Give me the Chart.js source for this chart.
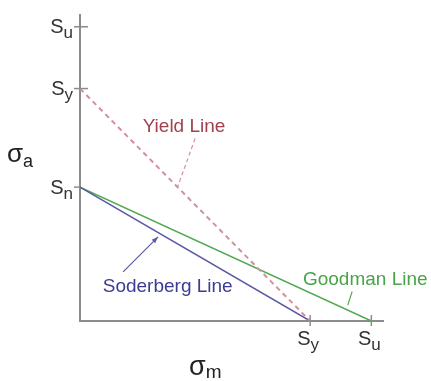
<!DOCTYPE html>
<html>
<head>
<meta charset="utf-8">
<script src="https://cdn.jsdelivr.net/npm/chart.js@4.4.1/dist/chart.umd.min.js"></script>
<style>
  html, body { margin: 0; padding: 0; background: #fff; }
  canvas { display: block; }
</style>
</head>
<body>
<canvas id="fatigue-chart" width="431" height="381"></canvas>
<script>
// strengths, in the same arbitrary stress units on both axes
const SU = 100; // ultimate
const SY = 79; // yield
const SN = 45.5; // endurance

const lineNames = ["Yield Line", "Soderberg Line", "Goodman Line"];
const altIntercepts = [SY, SN, SN]; // where each line meets the sigma_a axis
const meanIntercepts = [SY, SY, SU]; // where each line meets the sigma_m axis

const yTickValues = [SU, SY, SN];
const yTickLabels = [["S", "u"], ["S", "y"], ["S", "n"]];
const xTickValues = [SY, SU];
const xTickLabels = [["S", "y"], ["S", "u"]];

const AXIS_MAX = 104;
const FONT = "'Liberation Sans', Arial, sans-serif";

const styles = {
  "Yield Line": { line: "#d4909c", text: "#a3404f", dash: [5, 4], width: 2 },
  "Soderberg Line": { line: "#5a5aa6", text: "#3c3c94", dash: [], width: 1.5 },
  "Goodman Line": { line: "#4fa94f", text: "#47a447", dash: [], width: 1.5 },
};

// label placement (data units) and leader lines
const callouts = {
  "Yield Line": { at: [35.7, 64.3], from: [39.5, 62.0], to: [33.6, 45.8], arrow: false },
  "Soderberg Line": { at: [30.1, 10.0], from: [14.8, 16.7], to: [26.8, 28.6], arrow: true },
  "Goodman Line": { at: [97.9, 12.2], from: [93.4, 10.0], to: [91.9, 5.4], arrow: false },
};

function drawSub(ctx, main, sub, x, y, align, mainSize, subSize, drop) {
  ctx.font = `${mainSize}px ${FONT}`;
  const w1 = ctx.measureText(main).width;
  ctx.font = `${subSize}px ${FONT}`;
  const w2 = ctx.measureText(sub).width;
  let start = x;
  if (align === "right") start = x - w1 - w2;
  if (align === "center") start = x - (w1 + w2) / 2;
  ctx.textAlign = "left";
  ctx.textBaseline = "alphabetic";
  ctx.font = `${mainSize}px ${FONT}`;
  ctx.fillText(main, start, y);
  ctx.font = `${subSize}px ${FONT}`;
  ctx.fillText(sub, start + w1, y + drop);
}

const overlay = {
  id: "overlay",
  afterDatasetsDraw(chart) {
    const { ctx, chartArea } = chart;
    const xs = chart.scales.x;
    const ys = chart.scales.y;
    ctx.save();

    // tick marks
    ctx.strokeStyle = "#8c8c8c";
    ctx.lineWidth = 1.5;
    yTickValues.forEach((v, i) => {
      const py = ys.getPixelForValue(v);
      ctx.beginPath();
      ctx.moveTo(chartArea.left - 6, py);
      ctx.lineTo(chartArea.left + (v === SN ? 0 : 8), py);
      ctx.stroke();
    });
    xTickValues.forEach((v) => {
      const px = xs.getPixelForValue(v);
      ctx.beginPath();
      ctx.moveTo(px, chartArea.bottom - 6);
      ctx.lineTo(px, chartArea.bottom + 5);
      ctx.stroke();
    });

    // tick labels
    ctx.fillStyle = "#333";
    yTickValues.forEach((v, i) => {
      const py = ys.getPixelForValue(v);
      drawSub(ctx, yTickLabels[i][0], yTickLabels[i][1], chartArea.left - 7, py + 6.5, "right", 20, 17, 5);
    });
    xTickValues.forEach((v, i) => {
      const px = xs.getPixelForValue(v);
      drawSub(ctx, xTickLabels[i][0], xTickLabels[i][1], px - 2, chartArea.bottom + 24, "center", 20, 17, 5);
    });

    // axis titles
    ctx.fillStyle = "#222";
    drawSub(ctx, "\u03c3", "a", chartArea.left - 73, ys.getPixelForValue(54), "left", 26, 18, 5);
    drawSub(ctx, "\u03c3", "m", xs.getPixelForValue(43), chartArea.bottom + 54, "center", 27, 19, 3);

    // callouts
    lineNames.forEach((name) => {
      const c = callouts[name];
      const s = styles[name];
      const x1 = xs.getPixelForValue(c.from[0]);
      const y1 = ys.getPixelForValue(c.from[1]);
      const x2 = xs.getPixelForValue(c.to[0]);
      const y2 = ys.getPixelForValue(c.to[1]);
      ctx.strokeStyle = s.line;
      ctx.lineWidth = 1.2;
      ctx.setLineDash(s.dash.length ? [4, 3] : []);
      ctx.beginPath();
      ctx.moveTo(x1, y1);
      ctx.lineTo(x2, y2);
      ctx.stroke();
      ctx.setLineDash([]);
      if (c.arrow) {
        const a = Math.atan2(y2 - y1, x2 - x1);
        ctx.fillStyle = s.line;
        ctx.beginPath();
        ctx.moveTo(x2, y2);
        ctx.lineTo(x2 - 7 * Math.cos(a - 0.35), y2 - 7 * Math.sin(a - 0.35));
        ctx.lineTo(x2 - 7 * Math.cos(a + 0.35), y2 - 7 * Math.sin(a + 0.35));
        ctx.closePath();
        ctx.fill();
      }
      ctx.fillStyle = s.text;
      ctx.font = `19px ${FONT}`;
      ctx.textAlign = "center";
      ctx.textBaseline = "alphabetic";
      ctx.fillText(name, xs.getPixelForValue(c.at[0]), ys.getPixelForValue(c.at[1]));
    });

    ctx.restore();
  },
};

function createChart(ctx) {
  const datasets = lineNames.map((name, i) => ({
    label: name,
    data: [
      { x: 0, y: altIntercepts[i] },
      { x: meanIntercepts[i], y: 0 },
    ],
    showLine: true,
    borderColor: styles[name].line,
    borderWidth: styles[name].width,
    borderDash: styles[name].dash,
    pointRadius: 0,
    fill: false,
  }));

  const axis = {
    type: "linear",
    min: 0,
    max: AXIS_MAX,
    grid: { display: false, drawTicks: false },
    ticks: { display: false },
    border: { color: "#8c8c8c", width: 2 },
  };

  return new Chart(ctx, {
    type: "scatter",
    data: { datasets: datasets },
    options: {
      responsive: false,
      animation: false,
      layout: { padding: { left: 80, top: 15, right: 48, bottom: 60 } },
      scales: { x: axis, y: { ...axis } },
      plugins: {
        legend: { display: false },
        tooltip: { enabled: false },
      },
    },
    plugins: [overlay],
  });
}

document.addEventListener("DOMContentLoaded", () => {
  createChart(document.getElementById("fatigue-chart").getContext("2d"));
});
</script>
</body>
</html>
